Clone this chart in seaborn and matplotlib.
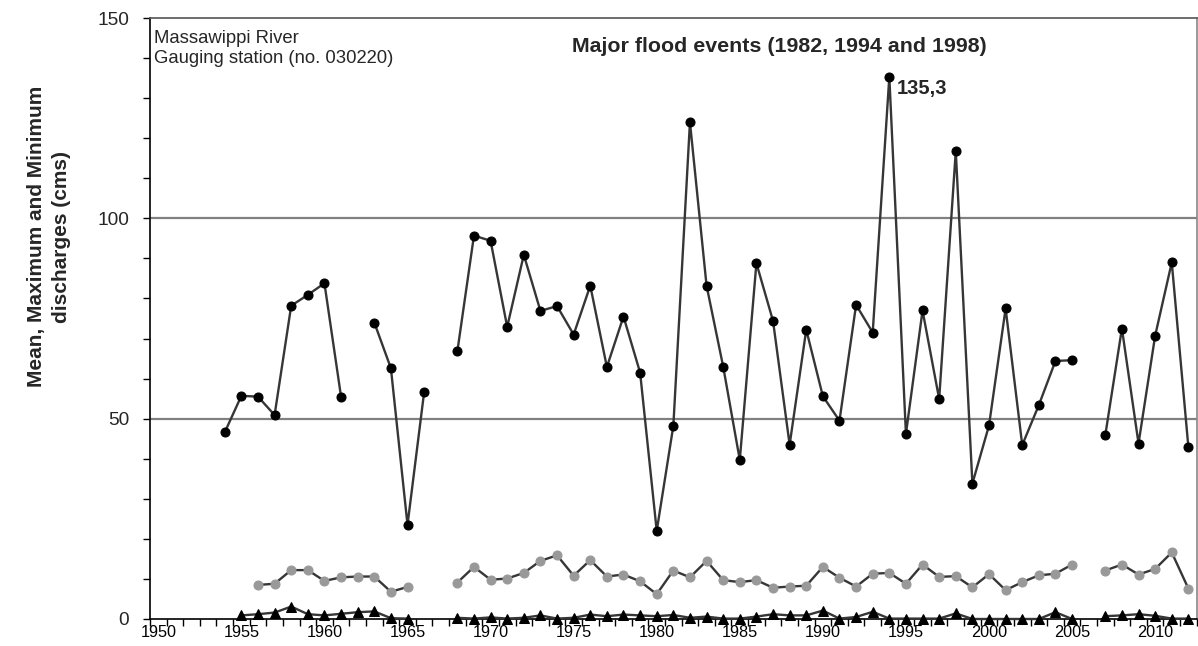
import numpy as np
import pandas as pd
import matplotlib
matplotlib.use("Agg")
import matplotlib.pyplot as plt
import seaborn as sns

# Annual discharges, Massawippi River (cms), 1954-2012 ; None = no data
years = list(range(1954, 2013))
max_q = [46.6, 55.7, 55.5, 50.9, 78.2, 80.9, 83.8, 55.5, None, 74.0,
         62.6, 23.5, 56.6, None, 66.8, 95.7, 94.4, 72.9, 90.9, 76.9,
         78.1, 71.0, 83.2, 62.9, 75.5, 61.5, 22.0, 48.2, 124.0, 83.2,
         63.0, 39.7, 88.8, 74.4, 43.5, 72.2, 55.6, 49.5, 78.4, 71.5,
         135.3, 46.2, 77.0, 54.9, 116.8, 33.8, 48.3, 77.5, 43.4, 53.4,
         64.4, 64.6, None, 45.9, 72.5, 43.8, 70.7, 89.0, 42.9]
mean_q = [None, None, 8.5, 8.8, 12.2, 12.2, 9.5, 10.4, 10.6, 10.6,
          6.8, 8.0, None, None, 9.1, 13.0, 9.8, 10.1, 11.5, 14.5,
          15.9, 10.8, 14.7, 10.6, 11.1, 9.4, 6.2, 12.1, 10.4, 14.5,
          9.7, 9.2, 9.7, 7.8, 8.1, 8.3, 13.0, 10.3, 8.1, 11.3,
          11.5, 8.8, 13.6, 10.5, 10.7, 7.9, 11.2, 7.2, 9.2, 10.9,
          11.3, 13.6, None, 12.1, 13.6, 11.1, 12.5, 16.6, 7.6]
min_q = [None, 0.9, 1.2, 1.6, 3.1, 1.2, 0.9, 1.3, 1.7, 1.9,
         0.2, 0.1, None, None, 0.3, 0.1, 0.4, 0.1, 0.3, 0.9,
         0.1, 0.3, 1.1, 0.7, 1.1, 0.9, 0.7, 1.0, 0.3, 0.6,
         0.1, 0.1, 0.6, 1.2, 0.9, 0.9, 2.1, 0.1, 0.5, 1.8,
         0.1, 0.1, 0.1, 0.1, 1.4, 0.0, 0.0, 0.0, 0.0, 0.0,
         1.7, 0.0, None, 0.7, 0.9, 1.2, 0.8, 0.1, 0.1]

peak_year = 1994
peak_label = "135,3"

sns.set_theme(style="white")
plt.rcParams['font.family'] = ['Liberation Sans', 'DejaVu Sans']

df = pd.DataFrame({'year': years, 'max': max_q, 'mean': mean_q, 'min': min_q})

fig = plt.figure(figsize=(11.98, 6.46), dpi=100)
ax = fig.add_axes([0.1252, 0.0418, 0.8737, 0.9303])

line_col = '#363636'


def draw(col, marker, face, size):
    # one line per run of consecutive years (gaps where data is missing)
    d = df[['year', col]].copy()
    d['seg'] = d[col].isna().cumsum()
    d = d.dropna()
    sns.lineplot(data=d, x='year', y=col, units='seg', estimator=None,
                 color=line_col, linewidth=1.7, marker=marker, markersize=size,
                 markerfacecolor=face, markeredgecolor=face, clip_on=False,
                 ax=ax, zorder=3)


draw('max', 'o', 'black', 6.5)
draw('mean', 'o', '#999999', 6.5)
draw('min', '^', 'black', 6.5)

# axes
ax.set_xlim(1949.5, 2012.5)
ax.set_ylim(0, 150)
ax.set_xticks(range(1950, 2011, 5))
ax.set_xticks(np.arange(1949.5, 2013, 1), minor=True)
ax.set_yticks([0, 50, 100, 150])
ax.set_yticks(range(0, 151, 10), minor=True)
ax.tick_params(axis='x', which='major', length=0, pad=4, labelsize=11.7, colors='black')
ax.tick_params(axis='x', which='minor', length=5, width=1, direction='out',
               bottom=True, color='black')
ax.tick_params(axis='y', which='both', length=5, width=1, direction='out',
               left=True, color='black')
ax.tick_params(axis='y', which='major', pad=10, labelsize=13.8)

ax.grid(False)
for v in [50, 100]:
    ax.axhline(v, color='#808080', linewidth=1.6, zorder=1)

for s in ['left', 'bottom']:
    ax.spines[s].set_color('black')
    ax.spines[s].set_linewidth(1.2)
ax.spines['top'].set_color('#555555')
ax.spines['right'].set_color('#888888')
ax.spines['top'].set_linewidth(1.2)
ax.spines['right'].set_linewidth(1.2)

ax.set_xlabel('')
ax.set_ylabel('Mean, Maximum and Minimum\ndischarges (cms)', fontsize=15,
              fontweight='bold', linespacing=1.45)
ax.yaxis.set_label_coords(-0.075, 0.636)

ax.text(0.004, 0.98, 'Massawippi River\nGauging station (no. 030220)',
        transform=ax.transAxes, ha='left', va='top', fontsize=13.3,
        linespacing=1.2)
ax.text(0.601, 0.952, 'Major flood events (1982, 1994 and 1998)',
        transform=ax.transAxes, ha='center', va='center', fontsize=15.4,
        fontweight='bold')

peak_val = df.loc[df['year'] == peak_year, 'max'].iloc[0]
ax.annotate(peak_label, xy=(peak_year, peak_val), xytext=(5, -8),
            textcoords='offset points', ha='left', va='center',
            fontsize=14.5, fontweight='bold')

fig.savefig('out.png', dpi=100)
